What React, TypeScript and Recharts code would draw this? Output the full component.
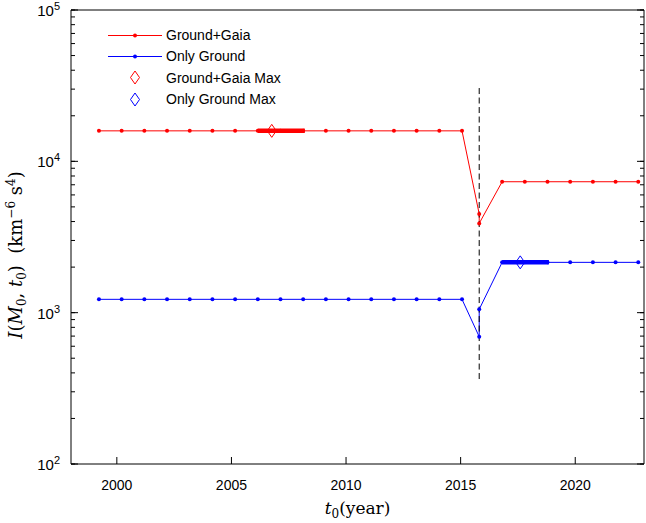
import { ComposedChart, Line, Scatter, XAxis, YAxis, Legend } from "recharts";

// epochs (year) of the sampled t0 values
const epochYears = [
  1999.22, 2000.21, 2001.2, 2002.19, 2003.18, 2004.17, 2005.16, 2006.15, 2007.14,
  2008.13, 2009.12, 2010.11, 2011.1, 2012.09, 2013.08, 2014.07, 2015.06,
  2015.81, 2015.81,
  2016.81, 2017.8, 2018.79, 2019.78, 2020.77, 2021.76, 2022.75,
];
const gaiaValues = [
  15900, 15900, 15900, 15900, 15900, 15900, 15900, 15900, 15900,
  15900, 15900, 15900, 15900, 15900, 15900, 15900, 15900,
  4490, 3890,
  7330, 7330, 7330, 7330, 7330, 7330, 7330,
];
const groundValues = [
  1225, 1225, 1225, 1225, 1225, 1225, 1225, 1225, 1225,
  1225, 1225, 1225, 1225, 1225, 1225, 1225, 1225,
  694, 1052,
  2150, 2150, 2150, 2150, 2150, 2150, 2150,
];

// refined search around the maximum
const gaiaRefinedYears = [2006.15, 2008.2];
const gaiaRefinedValues = [15900, 15900];
const groundRefinedYears = [2016.81, 2018.85];
const groundRefinedValues = [2150, 2150];

const gaiaMaxYear = [2006.76];
const gaiaMaxValue = [15900];
const groundMaxYear = [2017.6];
const groundMaxValue = [2150];

// Gaia epoch marker
const markerYears = [2015.81, 2015.81];
const markerValues = [30500, 350];

const xTicks = [2000, 2005, 2010, 2015, 2020];
const yMajorTicks = [100, 1000, 10000, 100000];
const yTicks = [
  100, 200, 300, 400, 500, 600, 700, 800, 900,
  1000, 2000, 3000, 4000, 5000, 6000, 7000, 8000, 9000,
  10000, 20000, 30000, 40000, 50000, 60000, 70000, 80000, 90000,
  100000,
];

const RED = "#ff0000";
const BLUE = "#0000ff";
const SANS = "'Liberation Sans', Arial, sans-serif";
const SERIF = "'DejaVu Serif', 'Liberation Serif', serif";

const toRows = (xs: number[], ys: number[]) => xs.map((x, i) => ({ x, y: ys[i] }));

const gaiaData = toRows(epochYears, gaiaValues);
const groundData = toRows(epochYears, groundValues);
const gaiaRefined = toRows(gaiaRefinedYears, gaiaRefinedValues);
const groundRefined = toRows(groundRefinedYears, groundRefinedValues);
const gaiaMax = toRows(gaiaMaxYear, gaiaMaxValue);
const groundMax = toRows(groundMaxYear, groundMaxValue);
const markerData = toRows(markerYears, markerValues);

const MAJOR = 7;
const MINOR = 4;

// eslint-disable-next-line @typescript-eslint/no-explicit-any
const BottomTick = ({ x, y, payload }: any) => (
  <text x={x} y={y + 26} textAnchor="middle" fontFamily={SANS} fontSize={14} fill="#000">
    {payload.value}
  </text>
);

// eslint-disable-next-line @typescript-eslint/no-explicit-any
const LeftTick = ({ x, y, payload }: any) => {
  const v = payload.value;
  if (!yMajorTicks.includes(v)) return <g />;
  return (
    <g>
      <line x1={x} y1={y} x2={x + MAJOR} y2={y} stroke="#000" strokeWidth={1} />
      <text x={x - 11} y={y + 6} textAnchor="end" fontFamily={SANS} fontSize={15} fill="#000">
        10
        <tspan dy={-6} fontSize={11}>
          {Math.round(Math.log10(v))}
        </tspan>
      </text>
    </g>
  );
};

// eslint-disable-next-line @typescript-eslint/no-explicit-any
const RightTick = ({ x, y, payload }: any) =>
  yMajorTicks.includes(payload.value) ? (
    <line x1={x} y1={y} x2={x - MAJOR} y2={y} stroke="#000" strokeWidth={1} />
  ) : (
    <g />
  );

// eslint-disable-next-line @typescript-eslint/no-explicit-any
const Diamond = ({ cx, cy, color }: any) => (
  <polygon
    points={`${cx},${cy - 6.5} ${cx + 4.5},${cy} ${cx},${cy + 6.5} ${cx - 4.5},${cy}`}
    fill="none"
    stroke={color}
    strokeWidth={1}
  />
);

const legendItems = [
  { label: "Ground+Gaia", color: RED, kind: "line" },
  { label: "Only Ground", color: BLUE, kind: "line" },
  { label: "Ground+Gaia Max", color: RED, kind: "diamond" },
  { label: "Only Ground Max", color: BLUE, kind: "diamond" },
];

const LegendBox = () => (
  <div style={{ fontFamily: SANS, fontSize: 14, color: "#000" }}>
    {legendItems.map((it) => (
      <div key={it.label} style={{ display: "flex", alignItems: "center", height: 21.3 }}>
        <svg width={54} height={21} style={{ display: "block" }}>
          {it.kind === "line" ? (
            <g>
              <line x1={0} y1={10.5} x2={54} y2={10.5} stroke={it.color} />
              <circle cx={27} cy={10.5} r={2} fill={it.color} />
            </g>
          ) : (
            <Diamond cx={27} cy={10.5} color={it.color} />
          )}
        </svg>
        <span style={{ marginLeft: 4, whiteSpace: "nowrap" }}>{it.label}</span>
      </div>
    ))}
  </div>
);

// eslint-disable-next-line @typescript-eslint/no-explicit-any
const YLabel = ({ viewBox }: any) => {
  const cx = 22;
  const cy = viewBox.y + viewBox.height / 2 + 18;
  return (
    <text
      x={cx}
      y={cy}
      transform={`rotate(-90 ${cx} ${cy})`}
      textAnchor="middle"
      fontFamily={SERIF}
      fontSize={18}
      fill="#000"
      style={{ whiteSpace: "pre" }}
    >
      <tspan fontStyle="italic">I</tspan>
      <tspan>(</tspan>
      <tspan fontStyle="italic">M</tspan>
      <tspan dy={4} fontSize={12}>0</tspan>
      <tspan dy={-4}>, </tspan>
      <tspan fontStyle="italic">t</tspan>
      <tspan dy={4} fontSize={12}>0</tspan>
      <tspan dy={-4}>)  (km</tspan>
      <tspan dy={-7} fontSize={12}>−6</tspan>
      <tspan dy={7}> s</tspan>
      <tspan dy={-7} fontSize={12}>4</tspan>
      <tspan dy={7}>)</tspan>
    </text>
  );
};

// eslint-disable-next-line @typescript-eslint/no-explicit-any
const XLabel = ({ viewBox }: any) => {
  const cx = viewBox.x + viewBox.width / 2;
  return (
    <text x={cx} y={514} textAnchor="middle" fontFamily={SERIF} fontSize={17} fill="#000">
      <tspan fontStyle="italic">t</tspan>
      <tspan dy={4} fontSize={12}>0</tspan>
      <tspan dy={-4}>(year)</tspan>
    </text>
  );
};

export default function App() {
  return (
    <div style={{ position: "absolute", left: 0, top: 0, width: 646, height: 523, background: "#fff" }}>
      <ComposedChart width={646} height={523} margin={{ top: 9, right: 1, bottom: 0, left: 0 }}>
        <XAxis
          xAxisId="b"
          type="number"
          dataKey="x"
          domain={[1998, 2023]}
          allowDataOverflow
          ticks={xTicks}
          interval={0}
          height={59}
          stroke="#000"
          tickSize={-MAJOR}
          tickMargin={MAJOR}
          tickLine={{ stroke: "#000" }}
          axisLine={{ stroke: "#000" }}
          tick={<BottomTick />}
          label={<XLabel />}
        />
        <XAxis
          xAxisId="t"
          orientation="top"
          type="number"
          dataKey="x"
          domain={[1998, 2023]}
          allowDataOverflow
          ticks={xTicks}
          interval={0}
          height={1}
          stroke="#000"
          tickSize={-MAJOR}
          tickMargin={MAJOR}
          tickLine={{ stroke: "#000" }}
          axisLine={{ stroke: "#000" }}
          tick={false}
        />
        <YAxis
          yAxisId="l"
          type="number"
          dataKey="y"
          scale="log"
          domain={[100, 100000]}
          allowDataOverflow
          ticks={yTicks}
          interval={0}
          width={71}
          stroke="#000"
          tickSize={-MINOR}
          tickMargin={MINOR}
          tickLine={{ stroke: "#000" }}
          axisLine={{ stroke: "#000" }}
          tick={<LeftTick />}
          label={<YLabel />}
        />
        <YAxis
          yAxisId="r"
          orientation="right"
          type="number"
          dataKey="y"
          scale="log"
          domain={[100, 100000]}
          allowDataOverflow
          ticks={yTicks}
          interval={0}
          width={1}
          stroke="#000"
          tickSize={-MINOR}
          tickMargin={MINOR}
          tickLine={{ stroke: "#000" }}
          axisLine={{ stroke: "#000" }}
          tick={<RightTick />}
        />
        <Legend
          layout="vertical"
          align="center"
          verticalAlign="middle"
          wrapperStyle={{ left: 108, top: 24.5, width: "auto" }}
          content={<LegendBox />}
        />
        <Line
          xAxisId="b"
          yAxisId="l"
          data={gaiaData}
          dataKey="y"
          stroke={RED}
          strokeWidth={1}
          dot={{ r: 2, fill: RED, stroke: RED, strokeWidth: 0 }}
          isAnimationActive={false}
        />
        <Line
          xAxisId="b"
          yAxisId="l"
          data={groundData}
          dataKey="y"
          stroke={BLUE}
          strokeWidth={1}
          dot={{ r: 2, fill: BLUE, stroke: BLUE, strokeWidth: 0 }}
          isAnimationActive={false}
        />
        <Line
          xAxisId="b"
          yAxisId="l"
          data={gaiaRefined}
          dataKey="y"
          stroke={RED}
          strokeWidth={4.5}
          dot={false}
          isAnimationActive={false}
        />
        <Line
          xAxisId="b"
          yAxisId="l"
          data={groundRefined}
          dataKey="y"
          stroke={BLUE}
          strokeWidth={4.5}
          dot={false}
          isAnimationActive={false}
        />
        <Scatter
          xAxisId="b"
          yAxisId="l"
          data={gaiaMax}
          dataKey="y"
          shape={<Diamond color={RED} />}
          isAnimationActive={false}
        />
        <Scatter
          xAxisId="b"
          yAxisId="l"
          data={groundMax}
          dataKey="y"
          shape={<Diamond color={BLUE} />}
          isAnimationActive={false}
        />
        {/* drawn on the top/right axes (same domains) so the box frame renders */}
        <Line
          xAxisId="t"
          yAxisId="r"
          data={markerData}
          dataKey="y"
          stroke="#000"
          strokeWidth={1}
          strokeDasharray="6 3.5"
          dot={false}
          isAnimationActive={false}
        />
      </ComposedChart>
    </div>
  );
}
